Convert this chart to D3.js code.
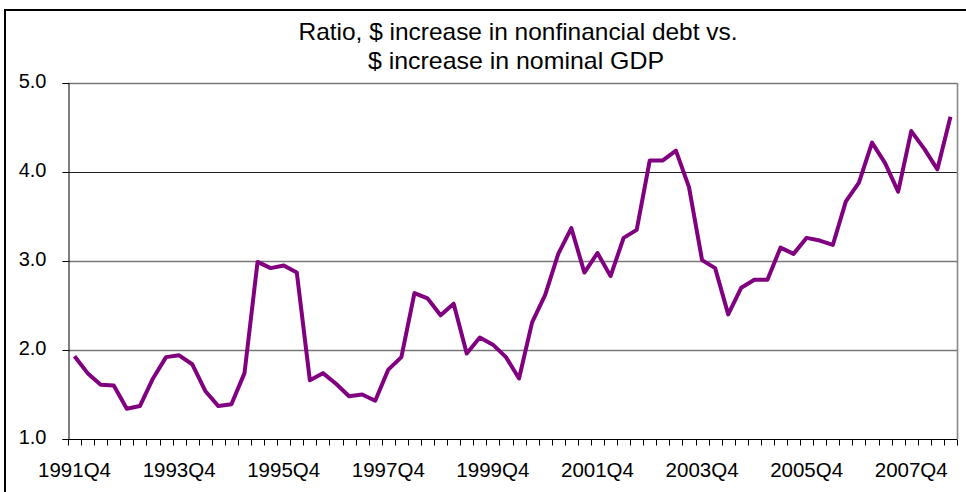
<!DOCTYPE html>
<html>
<head>
<script src="https://d3js.org/d3.v7.min.js"></script>
<style>
  body { margin: 0; background: #fff; }
  svg { display: block; font-family: "Liberation Sans", Arial, sans-serif; }
</style>
</head>
<body>
<svg class="target" width="966" height="492"></svg>
<script>

// quarters from 1991Q4 to 2008Q3
const startYear = 1991
const quarters = d3.range(68).map(i => {
  const q = (3 + i) % 4 + 1
  const y = startYear + Math.floor((3 + i) / 4)
  return y + 'Q' + q
})

// ratio
const ratio = [
  1.93, 1.74, 1.61, 1.60, 1.34, 1.37, 1.68, 1.92, 1.94, 1.84,
  1.54, 1.37, 1.39, 1.74, 2.99, 2.92, 2.95, 2.87, 1.66, 1.74,
  1.62, 1.48, 1.50, 1.43, 1.78, 1.92, 2.64, 2.58, 2.39, 2.52,
  1.96, 2.14, 2.06, 1.92, 1.68, 2.31, 2.62, 3.08, 3.37, 2.87,
  3.09, 2.83, 3.26, 3.35, 4.13, 4.13, 4.24, 3.83, 3.01, 2.92,
  2.40, 2.70, 2.79, 2.79, 3.15, 3.08, 3.26, 3.23, 3.18, 3.67,
  3.88, 4.33, 4.10, 3.78, 4.46, 4.26, 4.03, 4.62
]

const yTicks = [1, 2, 3, 4, 5]
const xLabels = quarters.filter((d, i) => i % 8 === 0)

const titleLines = ['Ratio, $ increase in nonfinancial debt vs.', '$ increase in nominal GDP']

const margin = { top: 83, right: 9, bottom: 53, left: 68 }
const width = 966
const height = 492

const svg = d3.select('.target')

// outer frame
svg.append('rect')
  .attr('x', 5).attr('y', 10)
  .attr('width', 970).attr('height', 500)
  .attr('fill', 'none')
  .attr('stroke', '#000')
  .attr('stroke-width', 2)

const x = d3.scaleBand(quarters, [margin.left, width - margin.right])
const y = d3.scaleLinear([1, 5], [height - margin.bottom, margin.top])

// gridlines
svg.append('g')
  .selectAll('line')
  .data(yTicks.slice(1))
  .join('line')
    .attr('x1', margin.left).attr('x2', width - margin.right)
    .attr('y1', d => Math.round(y(d)) + 0.5)
    .attr('y2', d => Math.round(y(d)) + 0.5)
    .attr('stroke', d => d === 4 ? '#222' : '#777')
    .attr('stroke-width', d => d === 4 ? 1 : 1.6)

// right border of plot area
svg.append('line')
  .attr('x1', width - margin.right + 0.5).attr('x2', width - margin.right + 0.5)
  .attr('y1', margin.top).attr('y2', height - margin.bottom)
  .attr('stroke', '#888')
  .attr('stroke-width', 1.6)

// y axis
const yAxis = d3.axisLeft(y)
  .tickValues(yTicks)
  .tickFormat(d3.format('.1f'))
  .tickSize(6)
  .tickPadding(16)

svg.append('g')
  .attr('transform', `translate(${margin.left + 0.5},0)`)
  .call(yAxis)
  .call(g => g.selectAll('text')
    .attr('font-size', 20)
    .attr('dy', '0.2em')
    .attr('font-family', '"Liberation Sans", Arial, sans-serif')
    .attr('fill', '#000'))
  .call(g => g.selectAll('line, path').attr('stroke', '#000'))

// x axis: ticks at category boundaries
const xAxisG = svg.append('g')
  .attr('transform', `translate(0,${Math.round(y(1)) + 0.5})`)

xAxisG.append('line')
  .attr('x1', margin.left).attr('x2', width - margin.right)
  .attr('stroke', '#000')

xAxisG.selectAll('.tick')
  .data(d3.range(quarters.length + 1))
  .join('line')
    .attr('class', 'tick')
    .attr('x1', i => Math.round(margin.left + i * x.step()) + 0.5)
    .attr('x2', i => Math.round(margin.left + i * x.step()) + 0.5)
    .attr('y1', 0).attr('y2', 6)
    .attr('stroke', '#000')

xAxisG.selectAll('text')
  .data(xLabels)
  .join('text')
    .attr('x', d => x(d) + x.bandwidth() / 2)
    .attr('y', 37)
    .attr('text-anchor', 'middle')
    .attr('font-size', 20)
    .attr('textLength', 73)
    .attr('lengthAdjust', 'spacingAndGlyphs')
    .attr('fill', '#000')
    .text(d => d)

// the line
const line = d3.line()
  .x((d, i) => x(quarters[i]) + x.bandwidth() / 2)
  .y(d => y(d))

svg.append('path')
  .datum(ratio)
  .attr('d', line)
  .attr('fill', 'none')
  .attr('stroke', '#800080')
  .attr('stroke-width', 4)
  .attr('stroke-linejoin', 'round')

// title
const titleWidths = [439, 296]
svg.append('g')
  .selectAll('text')
  .data(titleLines)
  .join('text')
    .attr('x', (d, i) => i === 0 ? 518 : 516)
    .attr('y', (d, i) => 40 + i * 29)
    .attr('text-anchor', 'middle')
    .attr('font-size', 24)
    .attr('textLength', (d, i) => titleWidths[i])
    .attr('lengthAdjust', 'spacingAndGlyphs')
    .attr('fill', '#000')
    .text(d => d)

</script>
</body>
</html>
